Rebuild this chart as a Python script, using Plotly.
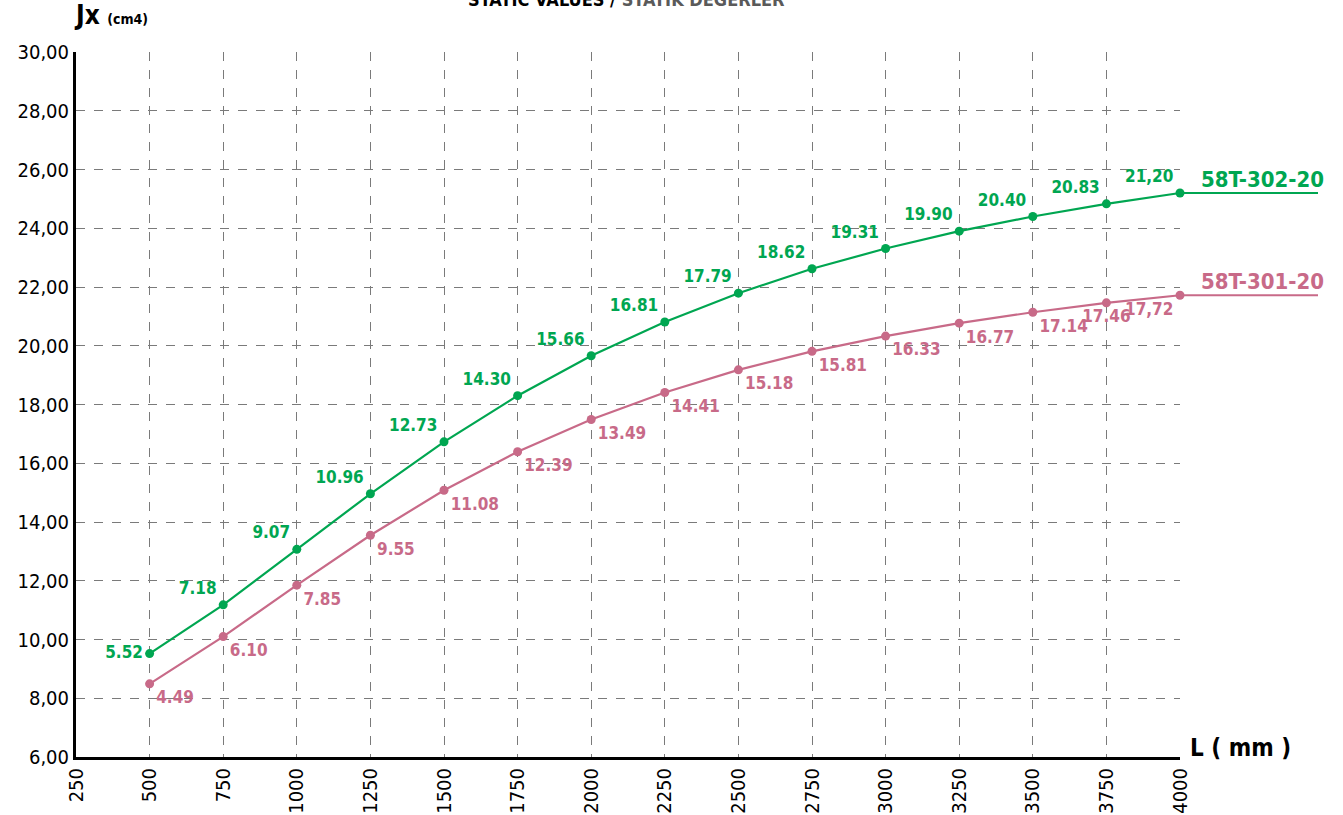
import plotly.graph_objects as go

# ---- data ----
lengths = [500, 750, 1000, 1250, 1500, 1750, 2000, 2250, 2500, 2750, 3000, 3250, 3500, 3750, 4000]
jx_302 = [5.52, 7.18, 9.07, 10.96, 12.73, 14.30, 15.66, 16.81, 17.79, 18.62, 19.31, 19.90, 20.40, 20.83, 21.20]
jx_301 = [4.49, 6.10, 7.85, 9.55, 11.08, 12.39, 13.49, 14.41, 15.18, 15.81, 16.33, 16.77, 17.14, 17.46, 17.72]
labels_302 = ["5.52", "7.18", "9.07", "10.96", "12.73", "14.30", "15.66", "16.81", "17.79", "18.62",
              "19.31", "19.90", "20.40", "20.83", "21,20"]
labels_301 = ["4.49", "6.10", "7.85", "9.55", "11.08", "12.39", "13.49", "14.41", "15.18", "15.81",
              "16.33", "16.77", "17.14", "17.46", "17,72"]
series_names = ["58T-302-20", "58T-301-20"]
plot_offset = 4.0  # points are drawn 4 units above their printed value in the original chart
x_ticks = [250, 500, 750, 1000, 1250, 1500, 1750, 2000, 2250, 2500, 2750, 3000, 3250, 3500, 3750, 4000]
y_ticks = [6, 8, 10, 12, 14, 16, 18, 20, 22, 24, 26, 28, 30]
y_tick_text = ["6,00", "8,00", "10,00", "12,00", "14,00", "16,00", "18,00", "20,00", "22,00",
               "24,00", "26,00", "28,00", "30,00"]

GREEN = "rgb(0,166,81)"
PINK = "rgb(200,106,136)"
NARROW = "DejaVu Sans Condensed, Liberation Sans Narrow, sans-serif"

y302 = [v + plot_offset for v in jx_302]
y301 = [v + plot_offset for v in jx_301]

pos302 = ["middle left"] + ["top left"] * 14
pos301 = ["bottom right"] * 12 + ["bottom right", "bottom center", "bottom left"]

fig = go.Figure()
fig.add_trace(go.Scatter(
    x=lengths, y=y302, mode="lines+markers+text", name=series_names[0],
    line=dict(color=GREEN, width=2.2), marker=dict(color=GREEN, size=9),
    text=labels_302, textposition=pos302,
    textfont=dict(family=NARROW, size=17, color=GREEN, weight="bold"),
    cliponaxis=False, showlegend=False, hoverinfo="skip"))
fig.add_trace(go.Scatter(
    x=lengths, y=y301, mode="lines+markers+text", name=series_names[1],
    line=dict(color=PINK, width=2.2), marker=dict(color=PINK, size=9),
    text=labels_301, textposition=pos301,
    textfont=dict(family=NARROW, size=17, color=PINK, weight="bold"),
    cliponaxis=False, showlegend=False, hoverinfo="skip"))

shapes = []
annotations = []
for yv, col, nm in [(y302[-1], GREEN, series_names[0]), (y301[-1], PINK, series_names[1])]:
    shapes.append(dict(type="line", xref="paper", yref="y", x0=1, x1=1.125, y0=yv, y1=yv,
                       line=dict(color=col, width=2)))
    annotations.append(dict(xref="paper", yref="y", x=1.132, y=yv, xanchor="right", yanchor="bottom",
                            text=f"<b>{nm}</b>", showarrow=False, yshift=-1,
                            font=dict(family=NARROW, size=22, color=col)))

annotations += [
    dict(xref="paper", yref="paper", x=0, y=1, xanchor="left", yanchor="bottom", xshift=-4, yshift=20,
         text="<b>Jx</b> <b><span style='font-size:14px'>(cm4)</span></b>", showarrow=False,
         font=dict(family=NARROW, size=26, color="black")),
    dict(xref="paper", yref="paper", x=1, y=0, xanchor="left", yanchor="middle", xshift=8, yshift=9,
         text="<b>L ( mm )</b>", showarrow=False,
         font=dict(family=NARROW, size=24, color="black")),
    dict(xref="paper", yref="paper", x=0.5, y=1, xanchor="center", yanchor="bottom", xshift=-2, yshift=40,
         text="<b>STATIC VALUES / <span style='color:#5a5a5a'>STATİK DEĞERLER</span></b>", showarrow=False,
         font=dict(family=NARROW, size=18, color="black")),
]

fig.update_layout(
    width=1343, height=815,
    margin=dict(l=76, r=163, t=52, b=58),
    paper_bgcolor="white", plot_bgcolor="white",
    shapes=shapes, annotations=annotations,
    font=dict(family=NARROW, color="black"),
    hovermode=False,
)
fig.update_xaxes(range=[250, 4000], tickvals=x_ticks, ticktext=[str(t) for t in x_ticks],
                 tickangle=-90, tickfont=dict(family=NARROW, size=20, color="black"),
                 showgrid=True, gridcolor="#7a7a7a", griddash="dash", gridwidth=1,
                 showline=True, linecolor="black", linewidth=3, zeroline=False, ticks="",
                 automargin=False)
fig.update_yaxes(range=[6, 30], tickvals=y_ticks, ticktext=y_tick_text,
                 tickfont=dict(family=NARROW, size=20, color="black"),
                 showgrid=True, gridcolor="#7a7a7a", griddash="dash", gridwidth=1,
                 showline=True, linecolor="black", linewidth=3, zeroline=False, ticks="",
                 automargin=False)

fig.write_html("out.html", config={"displayModeBar": False},
               post_script="document.body.style.margin='0';document.body.style.overflow='hidden';")
